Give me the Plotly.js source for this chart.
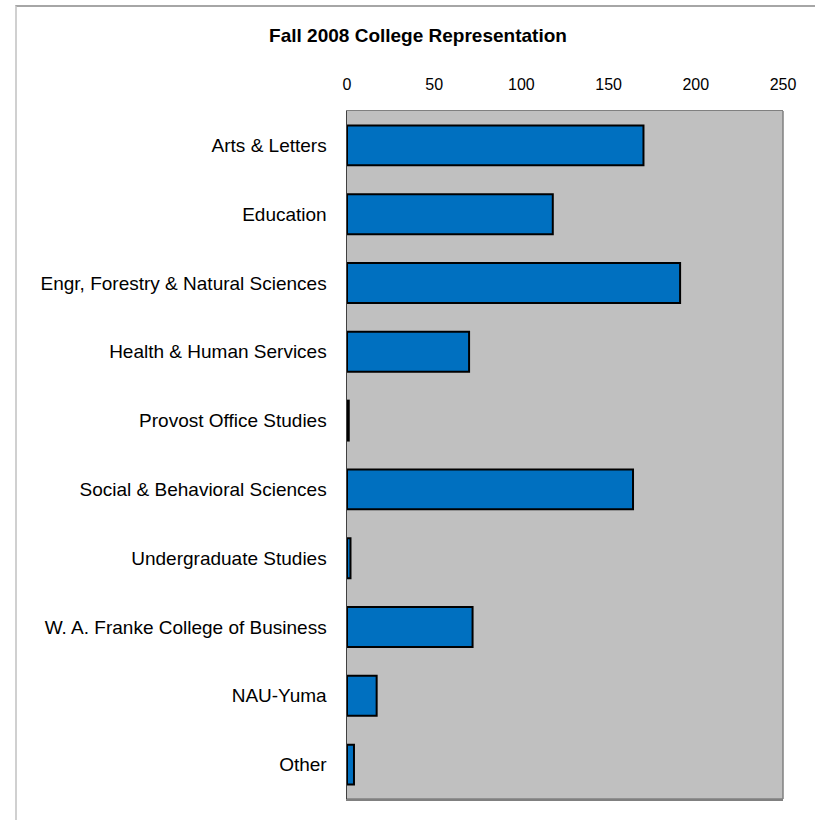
<!DOCTYPE html>
<html>
<head>
<meta charset="utf-8">
<script src="https://cdn.plot.ly/plotly-3.0.1.min.js"></script>
<style>
  html, body { margin: 0; padding: 0; background: #ffffff; }
  #wrap { position: relative; width: 815px; height: 820px; overflow: hidden; }
  #frame { position: absolute; left: 15px; top: 5px; width: 900px; height: 900px;
           border-top: 2px solid #a6a6a6; border-left: 2px solid #d0d0d0; box-sizing: border-box; pointer-events: none; }
  #chart { position: absolute; left: 0; top: 0; width: 815px; height: 820px; }
</style>
</head>
<body>
<div id="wrap">
  <div id="chart"></div>
  <div id="frame"></div>
</div>
<script>
const colleges = [
  "Arts & Letters",
  "Education",
  "Engr, Forestry & Natural Sciences",
  "Health & Human Services",
  "Provost Office Studies",
  "Social & Behavioral Sciences",
  "Undergraduate Studies",
  "W. A. Franke College of Business",
  "NAU-Yuma",
  "Other"
];
const counts = [170, 118, 191, 70, 1, 164, 2, 72, 17, 4];
const xTickValues = [0, 50, 100, 150, 200, 250];
const chartTitle = "Fall 2008 College Representation";

const trace = {
  type: "bar",
  orientation: "h",
  y: colleges,
  x: counts,
  marker: { color: "#0070C0", line: { color: "#000000", width: 2 } },
  hoverinfo: "x+y"
};

const layout = {
  width: 815,
  height: 820,
  margin: { l: 347, r: 32, t: 111, b: 21, pad: 0 },
  paper_bgcolor: "rgba(0,0,0,0)",
  plot_bgcolor: "#C0C0C0",
  showlegend: false,
  bargap: 0.42,
  font: { family: "Liberation Sans, Arial, sans-serif", color: "#000000" },
  title: {
    text: "<b>" + chartTitle + "</b>",
    font: { size: 19, family: "Liberation Sans, Arial, sans-serif", color: "#000000" },
    xref: "container", x: 418 / 815, xanchor: "center",
    yref: "container", y: 1 - 35 / 820, yanchor: "middle"
  },
  xaxis: {
    side: "top",
    range: [0, 250],
    tickvals: xTickValues,
    ticktext: xTickValues.map(String),
    showgrid: false,
    zeroline: false,
    showline: true,
    linecolor: "#808080",
    linewidth: 1.5,
    mirror: true,
    ticks: "",
    ticklabelstandoff: 13,
    tickfont: { size: 16, color: "#000000" },
    fixedrange: true
  },
  yaxis: {
    autorange: "reversed",
    showgrid: false,
    zeroline: false,
    showline: true,
    linecolor: "#404040",
    linewidth: 1.5,
    mirror: false,
    ticks: "",
    ticklabelstandoff: 15,
    tickfont: { size: 19, color: "#000000" },
    fixedrange: true
  },
  shapes: [
    { type: "line", xref: "paper", yref: "paper", x0: 1, x1: 1, y0: 0, y1: 1,
      line: { color: "#808080", width: 1.5 } },
    { type: "line", xref: "paper", yref: "paper", x0: 0, x1: 1, y0: 0, y1: 0,
      line: { color: "#808080", width: 1.5 } }
  ]
};

Plotly.newPlot("chart", [trace], layout, { displayModeBar: false, staticPlot: true });
</script>
</body>
</html>
